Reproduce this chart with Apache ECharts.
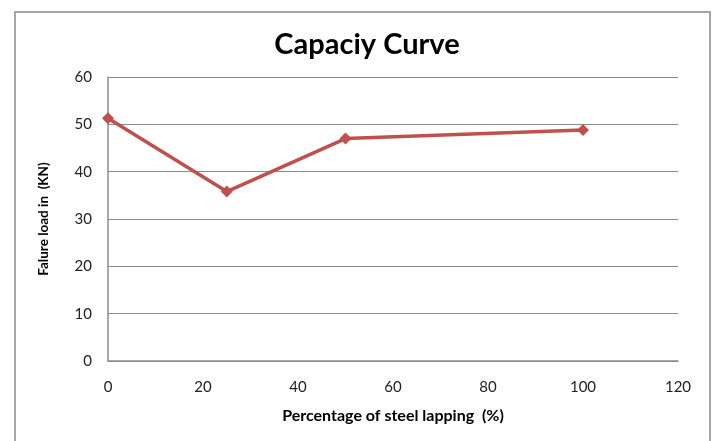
<!DOCTYPE html>
<html>
<head>
<meta charset="utf-8">
<script src="https://cdn.jsdelivr.net/npm/echarts@6/dist/echarts.min.js"></script>
<style>
  html, body { margin: 0; padding: 0; background: #fff; }
  #frame { position: absolute; left: 14px; top: 11px; width: 697px; height: 440px;
           border: 2px solid #a6a6a6; border-bottom: none; box-sizing: border-box; }
  #chart { position: absolute; left: 0; top: 0; width: 715px; height: 441px; }
</style>
</head>
<body>
<div id="frame"></div>
<div id="chart"></div>
<script>
// Steel lapping percentage vs. failure load
const lapping = [0, 25, 50, 100];
const failureLoad = [51.3, 35.8, 47.0, 48.8];
const xTicks = [0, 20, 40, 60, 80, 100, 120];
const yTicks = [0, 10, 20, 30, 40, 50, 60];

const chart = echarts.init(document.getElementById('chart'), null, { renderer: 'canvas' });
const font = 'Lato, "Open Sans", sans-serif';

chart.setOption({
  animation: false,
  backgroundColor: 'transparent',
  title: {
    text: 'Capaciy Curve',
    left: 362, top: 25, textAlign: 'center',
    textStyle: { fontFamily: font, fontWeight: 'bold', fontSize: 29, color: '#000' }
  },
  grid: { left: 108, right: 37, top: 77, bottom: 80 },
  xAxis: {
    type: 'value',
    min: xTicks[0], max: xTicks[xTicks.length - 1], interval: 20,
    name: 'Percentage of steel lapping  (%)',
    nameLocation: 'middle', nameGap: 47,
    nameTextStyle: { fontFamily: font, fontWeight: 'bold', fontSize: 16, color: '#000' },
    axisLine: { show: true, lineStyle: { color: '#8c8c8c', width: 1.5 } },
    axisTick: { show: false },
    splitLine: { show: false },
    axisLabel: { margin: 19, fontFamily: font, fontSize: 15, color: '#222' }
  },
  yAxis: {
    type: 'value',
    min: yTicks[0], max: yTicks[yTicks.length - 1], interval: 10,
    name: 'Falure load in  (KN)',
    nameLocation: 'middle', nameGap: 57, nameRotate: 90,
    nameTextStyle: { fontFamily: font, fontWeight: 'bold', fontSize: 13.5, color: '#000' },
    axisLine: { show: true, lineStyle: { color: '#8c8c8c', width: 1.5 } },
    axisTick: { show: false },
    splitLine: { show: true, lineStyle: { color: '#8c8c8c', width: 1.2 } },
    axisLabel: { margin: 16, fontFamily: font, fontSize: 15, color: '#222' }
  },
  series: [{
    type: 'line',
    data: lapping.map((x, i) => [x, failureLoad[i]]),
    symbol: 'diamond',
    symbolSize: 12,
    lineStyle: { color: '#C0504D', width: 3.5 },
    itemStyle: { color: '#C0504D' }
  }]
});
</script>
</body>
</html>
